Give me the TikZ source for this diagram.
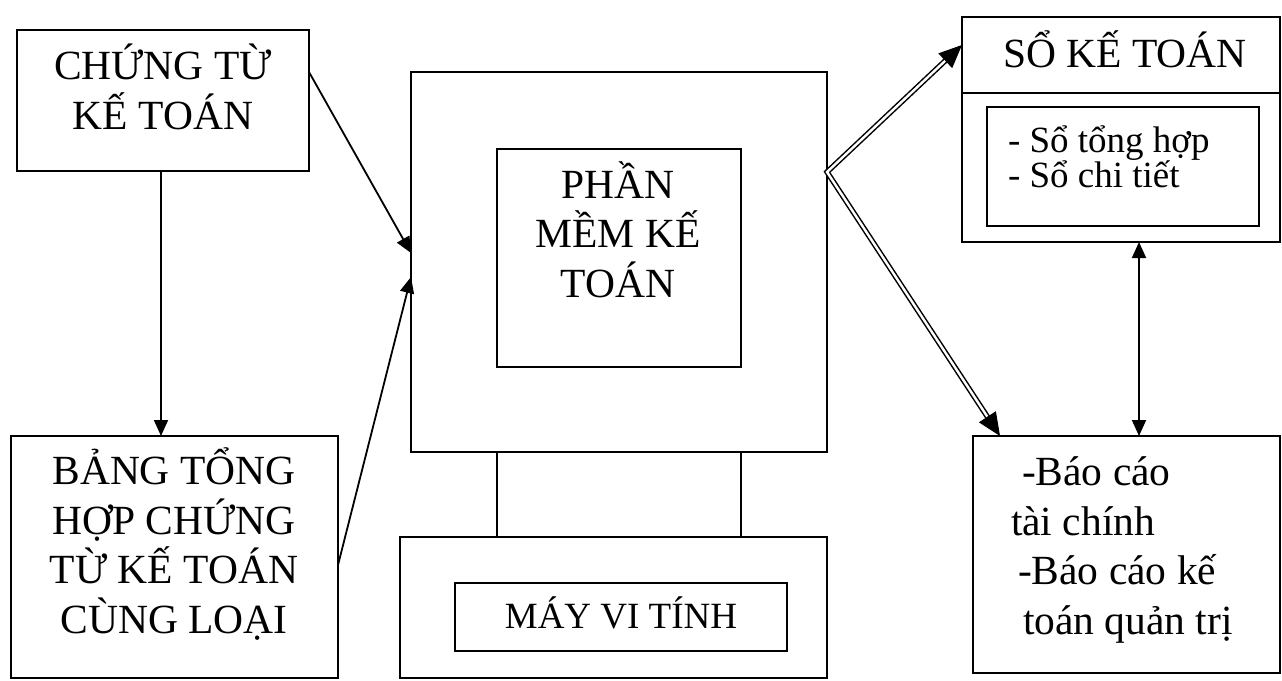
\documentclass[tikz,border=0pt]{standalone}
\usepackage{fontspec}
\setmainfont{Liberation Serif}
\usetikzlibrary{arrows.meta,calc}
\begin{document}
\begin{tikzpicture}[x=1pt,y=-1pt,
  box/.style={draw, line width=1.6pt, outer sep=0pt, inner sep=0pt},
  big/.style={font=\fontsize{41.5}{49.5}\selectfont, inner sep=0pt, outer sep=0pt},
  small/.style={font=\fontsize{37}{35}\selectfont, inner sep=0pt, outer sep=0pt},
  arr/.style={line width=1.8pt, -{Triangle[length=16pt,width=14pt]}},
  biarr/.style={line width=1.8pt, {Triangle[length=16pt,width=14pt]}-{Triangle[length=16pt,width=14pt]}},
  dbl/.style={line width=1.5pt, double, double distance=2.4pt},
  dhead/.style={line width=1pt, -{Triangle[length=23pt,width=20pt]}}]
\useasboundingbox (0,0) rectangle (1282,680);
\fill[white] (0,0) rectangle (1282,680);

% boxes
\node[box, minimum width=292pt, minimum height=141pt] (ct) at (163,100.5) {};
\node[box, minimum width=327pt, minimum height=242pt] (bth) at (174.5,557) {};
\node[box, minimum width=416pt, minimum height=380pt] (mon) at (619,262) {};
\node[box, minimum width=244pt, minimum height=218pt] (pm) at (619,258) {};
\node[box, minimum width=427pt, minimum height=141pt] (base) at (613.5,607.5) {};
\node[box, minimum width=332pt, minimum height=68pt] (mvt) at (621,617) {};
\node[box, minimum width=318pt, minimum height=225pt] (so) at (1121,129.5) {};
\node[box, minimum width=272pt, minimum height=119pt] (soin) at (1123,166.5) {};
\node[box, minimum width=307pt, minimum height=237pt] (bc) at (1126.5,554.5) {};

% monitor stand and ledger divider
\draw[line width=1.6pt] (mon.south -| pm.west) -- (base.north -| pm.west);
\draw[line width=1.6pt] (mon.south -| pm.east) -- (base.north -| pm.east);
\draw[line width=1.6pt] (so.west |- 0,93) -- (so.east |- 0,93);

% texts (anchor = baseline of last line)
\node[big, anchor=base, align=center] (tct) at (163,129) {CHỨNG TỪ\\KẾ TOÁN};
\node[big, anchor=base, align=center] (tbth) at (174,633) {BẢNG TỔNG\\HỢP CHỨNG\\TỪ KẾ TOÁN\\CÙNG LOẠI};
\node[big, anchor=base, align=center] (tpm) at (618,297) {PHẦN\\MỀM KẾ\\TOÁN};
\node[small, anchor=base] (tmvt) at (621,628) {MÁY VI TÍNH};
\node[big, anchor=base] (tso) at (1125,67) {SỔ KẾ TOÁN};
\node[small, anchor=base west, align=left] (tsoin) at (1008,187) {- Sổ tổng hợp\\- Sổ chi tiết};
\node[big, anchor=base west, align=left] (tbc) at (1011,634) {\hspace*{11pt}-Báo cáo\\tài chính\\\hspace*{7pt}-Báo cáo kế\\\hspace*{12pt}toán quản trị};

% connectors
\draw[arr] ([xshift=-2pt]ct.south) -- ([xshift=-2pt]ct.south |- bth.north);
\draw[arr] ([yshift=28.5pt]ct.east) -- ([yshift=9pt]mon.west);
\draw[arr] ([yshift=-8pt]bth.east) -- ([yshift=-15pt]mon.west);
\coordinate (j) at ([yshift=90pt]mon.east);
\coordinate (sot) at ([yshift=84.5pt]so.west);
\coordinate (bct) at ([xshift=-126.5pt]bc.north);
\draw[dbl, line join=miter] ($(sot)!18pt!(j)$) -- (j) -- ($(bct)!18pt!(j)$);
\draw[dhead] ($(sot)!23pt!(j)$) -- (sot);
\draw[dhead] ($(bct)!23pt!(j)$) -- (bct);
\draw[biarr] ([xshift=18pt]so.south) -- ([xshift=18pt]so.south |- bc.north);
\end{tikzpicture}
\end{document}
